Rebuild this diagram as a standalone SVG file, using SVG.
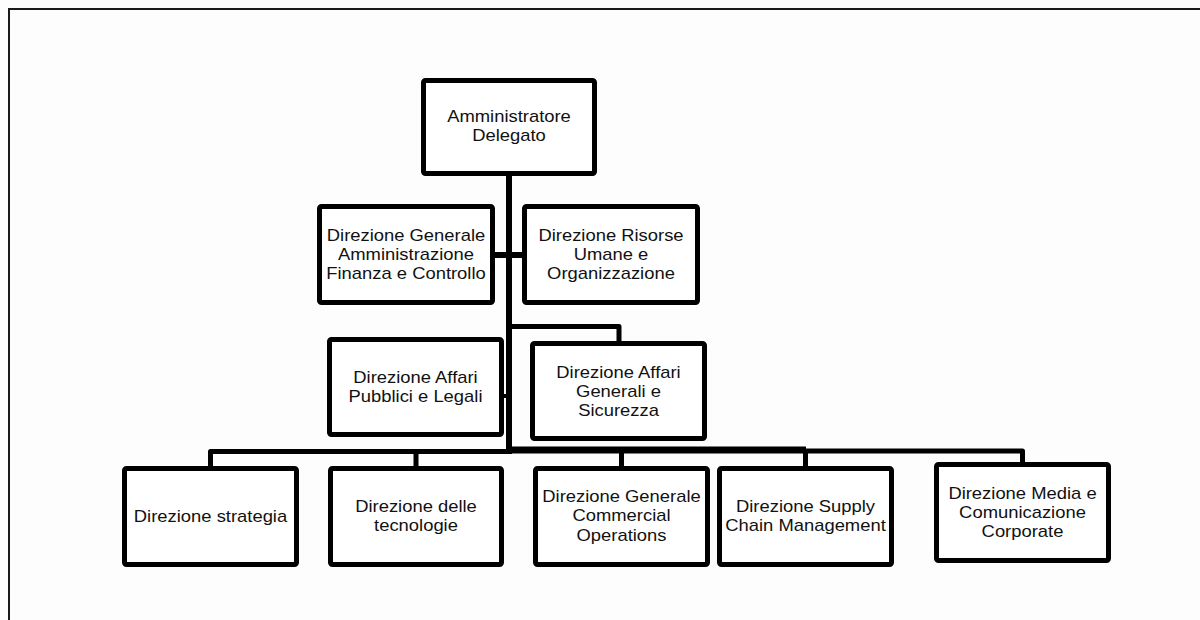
<svg xmlns="http://www.w3.org/2000/svg" width="1200" height="620" viewBox="0 0 1200 620">
  <style>
    .box { fill: #ffffff; stroke: #000000; stroke-width: 5; }
    .wire { fill: none; stroke: #000000; stroke-width: 5; stroke-linejoin: round; }
    .lbl { font-family: "Liberation Sans", Arial, sans-serif; font-size: 16px; fill: #111111; text-anchor: middle; }
    .frame { fill: none; stroke: #1a1a1a; stroke-width: 2; }
  </style>

  <rect x="0" y="0" width="1200" height="620" fill="#fdfdfd"/>
  <!-- page frame: only the top and left edges are visible -->
  <path class="frame" d="M9,620 V9 H1200"/>

  <!-- connectors -->
  <g id="connectors">
    <path class="wire" d="M509,176 V454" style="stroke-width:6"/>
    <path class="wire" d="M495,255 H522" style="stroke-width:6"/>
    <path class="wire" d="M504,396 H509" style="stroke-width:4"/>
    <path class="wire" d="M509,326.5 H619 V341"/>
    <path class="wire" d="M210.5,466 V451.5 H509"/>
    <path class="wire" d="M509,449 H806"/>
    <path class="wire" d="M416,466 V451.5"/>
    <path class="wire" d="M509,451 H1022.5 V462"/>
    <path class="wire" d="M621.5,466 V451"/>
    <path class="wire" d="M805.5,466 V451"/>
  </g>

  <g id="amministratore-delegato">
    <rect class="box" x="423.5" y="80.5" width="171" height="93" rx="2"/>
    <text class="lbl" transform="translate(509 0) scale(1.15 1)"><tspan x="0" y="121.7">Amministratore</tspan><tspan x="0" y="141">Delegato</tspan></text>
  </g>

  <g id="dg-amministrazione-finanza-controllo">
    <rect class="box" x="319.5" y="206.5" width="173" height="96" rx="2"/>
    <text class="lbl" transform="translate(406 0) scale(1.15 1)"><tspan x="0" y="240.7">Direzione Generale</tspan><tspan x="0" y="260">Amministrazione</tspan><tspan x="0" y="279.3">Finanza e Controllo</tspan></text>
  </g>

  <g id="risorse-umane-organizzazione">
    <rect class="box" x="524.5" y="206.5" width="173" height="96" rx="2"/>
    <text class="lbl" transform="translate(611 0) scale(1.15 1)"><tspan x="0" y="240.7">Direzione Risorse</tspan><tspan x="0" y="260">Umane e</tspan><tspan x="0" y="279.3">Organizzazione</tspan></text>
  </g>

  <g id="affari-pubblici-legali">
    <rect class="box" x="329.5" y="339.5" width="172" height="95" rx="2"/>
    <text class="lbl" transform="translate(415.5 0) scale(1.15 1)"><tspan x="0" y="382.7">Direzione Affari</tspan><tspan x="0" y="401.7">Pubblici e Legali</tspan></text>
  </g>

  <g id="affari-generali-sicurezza">
    <rect class="box" x="532.5" y="343.5" width="172" height="95" rx="2"/>
    <text class="lbl" transform="translate(618.5 0) scale(1.15 1)"><tspan x="0" y="377.7">Direzione Affari</tspan><tspan x="0" y="396.7">Generali e</tspan><tspan x="0" y="416">Sicurezza</tspan></text>
  </g>

  <g id="strategia">
    <rect class="box" x="124.5" y="468.5" width="172" height="96" rx="2"/>
    <text class="lbl" transform="translate(210.5 0) scale(1.15 1)"><tspan x="0" y="521.7">Direzione strategia</tspan></text>
  </g>

  <g id="tecnologie">
    <rect class="box" x="330.5" y="468.5" width="171" height="96" rx="2"/>
    <text class="lbl" transform="translate(416 0) scale(1.15 1)"><tspan x="0" y="511.7">Direzione delle</tspan><tspan x="0" y="531">tecnologie</tspan></text>
  </g>

  <g id="dg-commercial-operations">
    <rect class="box" x="535.5" y="468.5" width="172" height="96" rx="2"/>
    <text class="lbl" transform="translate(621.5 0) scale(1.15 1)"><tspan x="0" y="502">Direzione Generale</tspan><tspan x="0" y="521.5">Commercial</tspan><tspan x="0" y="541">Operations</tspan></text>
  </g>

  <g id="supply-chain-management">
    <rect class="box" x="719.5" y="468.5" width="172" height="96" rx="2"/>
    <text class="lbl" transform="translate(805.5 0) scale(1.15 1)"><tspan x="0" y="511.7">Direzione Supply</tspan><tspan x="0" y="531">Chain Management</tspan></text>
  </g>

  <g id="media-comunicazione-corporate">
    <rect class="box" x="936.5" y="464.5" width="172" height="96" rx="2"/>
    <text class="lbl" transform="translate(1022.5 0) scale(1.15 1)"><tspan x="0" y="499">Direzione Media e</tspan><tspan x="0" y="518.3">Comunicazione</tspan><tspan x="0" y="537.3">Corporate</tspan></text>
  </g>
</svg>
